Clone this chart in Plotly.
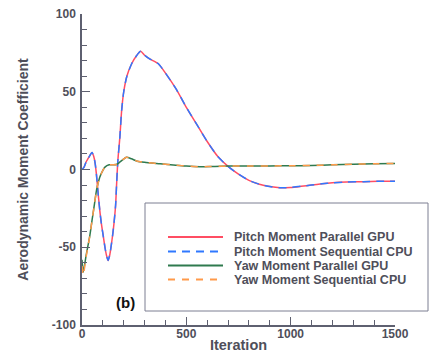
import plotly.graph_objects as go

# ---------------- data ----------------
pitch_iter = [0, 10, 20, 29, 40, 48, 56, 63, 69, 77, 85, 93, 101, 110, 117, 125, 133, 140,
              147, 153, 161, 166, 172, 181, 190, 200, 215, 238, 262, 281, 300, 326, 366,
              400, 450, 500, 550, 600, 650, 700, 750, 800, 850, 900, 950, 1000, 1050,
              1100, 1150, 1200, 1268, 1350, 1420, 1500]
pitch_gpu = [0, 1.5, 5, 7, 9.5, 11, 8.5, 4, -3, -15, -26, -35, -42, -50, -55, -58.5, -55, -49,
             -42, -35, -23, -9, 6, 20, 38, 50, 60, 68, 73.3, 76, 73.5, 71, 68,
             62, 52, 40, 29, 18, 8.5, 2, -3, -7, -9.5, -11, -11.8, -11.5, -10.8,
             -10, -9.2, -8.6, -8.1, -7.8, -7.6, -7.5]
pitch_cpu = list(pitch_gpu)

yaw_iter = [0, 6, 20, 37, 50, 60, 70, 85, 100, 110, 130, 165, 181, 213, 237, 265, 300, 374,
            450, 500, 565, 637, 700, 800, 900, 1000, 1100, 1200, 1300, 1400, 1500]
yaw_gpu = [-58, -66, -55, -43, -31, -22, -13, -5, -0.5, 1.5, 3, 3.2, 4.7, 7.9, 6.9, 5.3, 4.6, 3.7,
           2.8, 2.2, 1.8, 2.0, 2.2, 2.3, 2.3, 2.4, 2.6, 3.0, 3.4, 3.7, 3.9]
yaw_cpu = [-62, -68, -56, -43, -31, -22, -13, -5, -0.5, 1.5, 3, 3.2, 4.7, 7.9, 6.9, 5.3, 4.6, 3.7,
           2.8, 2.2, 1.8, 2.0, 2.2, 2.3, 2.3, 2.4, 2.6, 3.0, 3.4, 3.7, 3.9]

series_names = ["Pitch Moment Parallel GPU", "Pitch Moment Sequential CPU",
                "Yaw Moment Parallel GPU", "Yaw Moment Sequential CPU"]
series_colors = ["#ff4d63", "#2f78ff", "#2f7a4e", "#ff9a4a"]
series_dash = ["solid", "8px,6px", "solid", "7px,7px"]

x_ticks = [0, 500, 1000, 1500]
y_ticks = [-100, -50, 0, 50, 100]

# ---------------- figure ----------------
W, H = 430, 359
ml, mr, mt, mb = 82, 35, 14, 34
pw, ph = W - ml - mr, H - mt - mb

fig = go.Figure()
xs = [pitch_iter, pitch_iter, yaw_iter, yaw_iter]
ys = [pitch_gpu, pitch_cpu, yaw_gpu, yaw_cpu]
for xv, yv, nm, col, ds in zip(xs, ys, series_names, series_colors, series_dash):
    fig.add_trace(go.Scatter(x=xv, y=yv, name=nm, mode="lines",
                             line=dict(color=col, width=1.5, dash=ds, shape="spline", smoothing=0.6),
                             showlegend=False))

txt = "#4f4f5a"
axcol = "#5e6070"
font_fam = "Liberation Sans, Arial, sans-serif"

def px_x(p):
    return (p - ml) / pw

def px_y(p):
    return (H - mb - p) / ph

# legend box
fig.add_shape(type="rect", xref="paper", yref="paper",
              x0=px_x(145), x1=px_x(428), y0=px_y(311), y1=px_y(203),
              line=dict(color="#7c7e92", width=1), fillcolor="rgba(0,0,0,0)")

rows = [237, 251.5, 265.5, 279.5]
for nm, col, ds, ry in zip(series_names, series_colors, series_dash, rows):
    fig.add_shape(type="line", xref="paper", yref="paper",
                  x0=px_x(168), x1=px_x(223), y0=px_y(ry), y1=px_y(ry),
                  line=dict(color=col, width=1.8, dash=ds))
    fig.add_annotation(text=nm, xref="paper", yref="paper", x=px_x(232), y=px_y(ry),
                       xanchor="left", yanchor="middle", showarrow=False,
                       font=dict(size=12.5, color=txt, family=font_fam, weight="bold"))

fig.add_annotation(text="(b)", xref="paper", yref="paper", x=px_x(125), y=px_y(302),
                   xanchor="center", yanchor="middle", showarrow=False,
                   font=dict(size=15, color="#111111", family=font_fam, weight="bold"))

fig.update_layout(
    width=W, height=H,
    margin=dict(l=ml, r=mr, t=mt, b=mb, pad=0, autoexpand=False),
    paper_bgcolor="white", plot_bgcolor="white",
    font=dict(family=font_fam, color=txt),
)
fig.update_xaxes(range=[0, 1500], tickvals=x_ticks, ticktext=[str(v) for v in x_ticks],
                 automargin=False,
                 ticks="inside", ticklen=8, tickwidth=1, tickcolor=axcol, ticklabelstandoff=-3,
                 minor=dict(dtick=100, ticks="inside", ticklen=5, tickcolor=axcol, tickwidth=1),
                 showline=True, linecolor=axcol, linewidth=1.5, showgrid=False, zeroline=False,
                 tickfont=dict(size=12, color=txt, family=font_fam, weight="bold"),
                 title=dict(text="Iteration", standoff=0,
                            font=dict(size=14.5, color=txt, family=font_fam, weight="bold")))
fig.update_yaxes(range=[-100, 100], tickvals=y_ticks, ticktext=[str(v) for v in y_ticks],
                 automargin=False,
                 ticks="inside", ticklen=8, tickwidth=1, tickcolor=axcol, ticklabelstandoff=2,
                 minor=dict(dtick=10, ticks="inside", ticklen=5, tickcolor=axcol, tickwidth=1),
                 showline=True, linecolor=axcol, linewidth=1.5, showgrid=False, zeroline=False,
                 tickfont=dict(size=12, color=txt, family=font_fam, weight="bold"),
                 title=dict(text="Aerodynamic Moment Coefficient", standoff=20,
                            font=dict(size=14, color=txt, family=font_fam, weight="bold")))

fig.write_html("out.html")
